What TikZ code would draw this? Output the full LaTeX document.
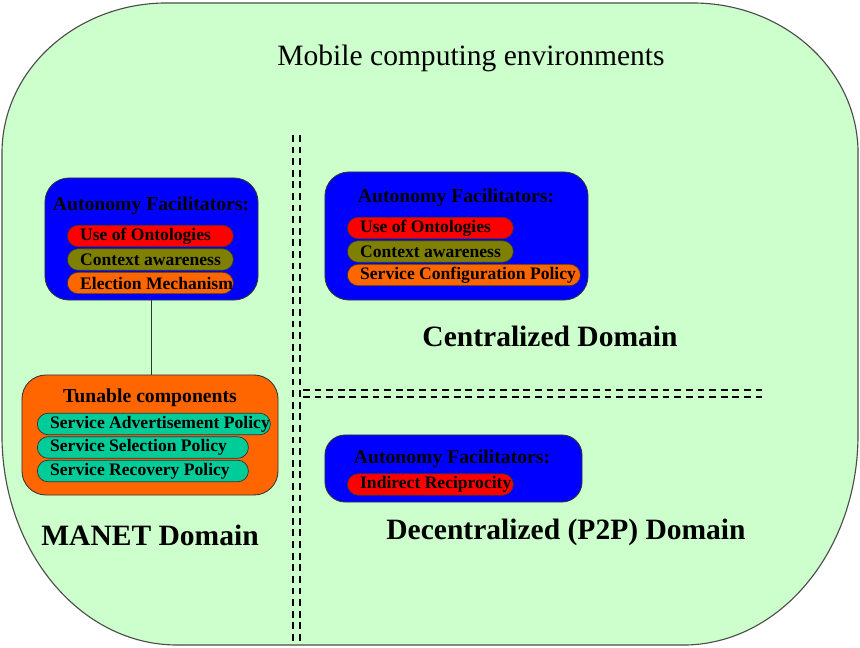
\documentclass[tikz,border=0pt]{standalone}
\usepackage{fontspec}
\setmainfont{Liberation Serif}
\usetikzlibrary{positioning}
\definecolor{envGreen}{RGB}{204,255,204}
\definecolor{facBlue}{RGB}{  0,  0,255}
\definecolor{itRed}{RGB}{255,  0,  0}
\definecolor{itOlive}{RGB}{128,128,  0}
\definecolor{itOrange}{RGB}{255,102,  0}
\definecolor{itTeal}{RGB}{  0,204,153}

\begin{document}
\begin{tikzpicture}[x=0.025cm, y=-0.025cm,
    grp/.style={draw=black!80, line width=0.6pt, rounded corners=0.6cm},
    ttl/.style={font=\fontsize{14}{16}\selectfont\bfseries, inner sep=0pt},
    pill/.style={draw=black!80, line width=0.5pt, rounded corners=0.27cm,
                 minimum height=0.54cm, inner xsep=0.32cm, inner ysep=0pt,
                 execute at begin node={\hbox to #1\bgroup},
                 execute at end node={\hss\egroup},
                 font=\fontsize{12.5}{14}\selectfont\bfseries},
    dom/.style={font=\fontsize{21}{24}\selectfont\bfseries},
    sep/.style={line width=0.9pt, dash pattern=on 0.17cm off 0.12cm}
  ]
  \useasboundingbox (0,0) rectangle (860,648);
  % environment outline
  \draw[draw=black!70, line width=0.8pt, fill=envGreen]
    (167,3) -- (693,3)
    arc[start angle=90, end angle=0, x radius=4.125cm, y radius=3.75cm] -- (858,435)
    arc[start angle=0, end angle=-90, x radius=4.375cm, y radius=5.25cm] -- (177,645)
    arc[start angle=-90, end angle=-180, x radius=4.375cm, y radius=5.25cm] -- (2,153)
    arc[start angle=180, end angle=90, x radius=4.125cm, y radius=3.75cm] -- cycle;
  \node[font=\fontsize{21}{24}\selectfont] (envt) at (471,58) {Mobile computing environments};

  % domain borders
  \draw[sep] (293,135) -- (293,645);
  \draw[sep] (300,135) -- (300,645);
  \draw[sep] (303,390) -- (762,390);
  \draw[sep] (303,397) -- (762,397);

  % MANET domain
  \node[grp, fill=facBlue, minimum width=5.325cm, minimum height=3.05cm] (fac1) at (151.5,239) {};
  \node[ttl] (fac1t) at (151,206) {Autonomy Facilitators:};
  \node[pill=3.51cm, fill=itRed, anchor=west] (onto1) at (67,236) {Use of Ontologies};
  \node[pill=3.51cm, fill=itOlive, below=0.03cm of onto1.south west, anchor=north west] (ctx1) {Context awareness};
  \node[pill=3.51cm, fill=itOrange, below=0.03cm of ctx1.south west, anchor=north west] (elec1) {Election Mechanism};

  \node[grp, fill=itOrange, minimum width=6.4cm, minimum height=3.0cm] (tune) at (150,435) {};
  \node[ttl] (tunet) at (150,398) {Tunable components};
  \node[pill=5.185cm, fill=itTeal, anchor=west] (adv) at (37,424) {Service Advertisement Policy};
  \node[pill=4.635cm, fill=itTeal, below=0.03cm of adv.south west, anchor=north west] (sel) {Service Selection Policy};
  \node[pill=4.635cm, fill=itTeal, below=0.03cm of sel.south west, anchor=north west] (rec) {Service Recovery Policy};

  \draw[black!80, line width=0.6pt] (fac1.south) -- (fac1.south |- tune.north);
  \node[dom] (manet) at (150,535) {MANET Domain};

  % centralized domain
  \node[grp, fill=facBlue, minimum width=6.575cm, minimum height=3.2cm] (fac2) at (456.5,236) {};
  \node[ttl] (fac2t) at (456,198) {Autonomy Facilitators:};
  \node[pill=3.51cm, fill=itRed, anchor=west] (onto2) at (347,228) {Use of Ontologies};
  \node[pill=3.51cm, fill=itOlive, below=0.03cm of onto2.south west, anchor=north west] (ctx2) {Context awareness};
  \node[pill=5.185cm, fill=itOrange, below=0.03cm of ctx2.south west, anchor=north west] (conf2) {Service Configuration Policy};
  \node[dom] (central) at (550,336) {Centralized Domain};

  % decentralized domain
  \node[grp, fill=facBlue, rounded corners=0.5cm, minimum width=6.425cm, minimum height=1.675cm] (fac3) at (453.5,468.5) {};
  \node[ttl] (fac3t) at (452,459) {Autonomy Facilitators:};
  \node[pill=3.51cm, fill=itRed, anchor=west] (recip) at (347,484.5) {Indirect Reciprocity};
  \node[dom] (decent) at (566,532) {Decentralized (P2P) Domain};
\end{tikzpicture}
\end{document}
